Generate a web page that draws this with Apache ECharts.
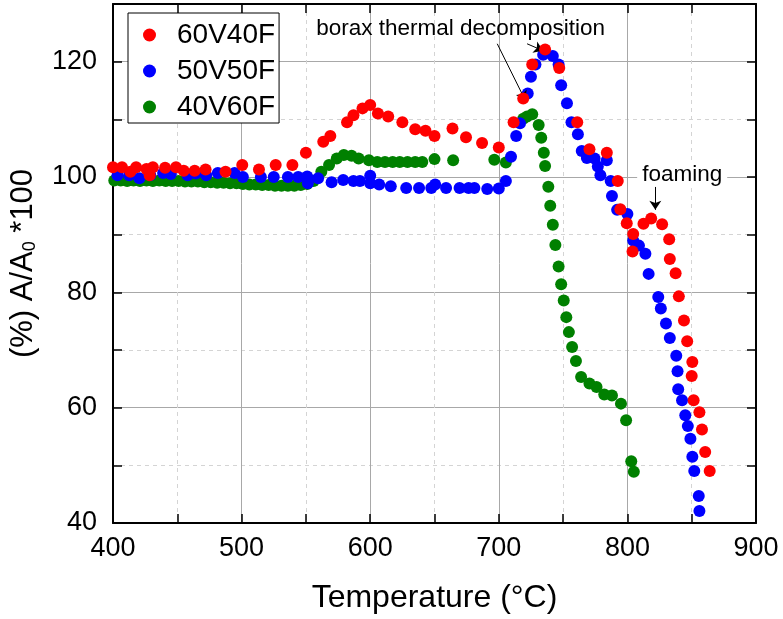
<!DOCTYPE html>
<html>
<head>
<meta charset="utf-8">
<script src="https://cdn.jsdelivr.net/npm/echarts@6/dist/echarts.min.js"></script>
<style>
  html, body { margin: 0; padding: 0; background: #fff; }
  #main { width: 783px; height: 619px; }
</style>
</head>
<body>
<div id="main"></div>
<script>
// 60V40F (red)
const temp60 = [400, 407, 413.5, 418, 426, 428.5, 431, 440.5, 449, 455, 463.5, 472, 487.5, 500.5, 513.5, 526.5, 539.5, 550,
  563.5, 569, 582, 587, 594, 600, 606, 614, 625, 635, 643, 650, 664, 674.5, 687, 700, 711.5, 719, 726, 736, 747, 761,
  770.5, 784, 792.5, 794.5, 799.5, 804.5, 804, 812.5, 818.5, 827, 832.5, 833, 837.5, 840, 844, 846.5, 850.5, 850, 851.5,
  856, 858, 860.5, 864];
const area60 = [101.7, 101.7, 100.9, 101.7, 101.4, 100.3, 101.7, 101.6, 101.7, 101.1, 101.1, 101.3, 100.9, 102.1, 101.3, 102.1, 102.1, 104.2,
  106.1, 107.1, 109.5, 110.7, 111.9, 112.5, 111.0, 110.5, 109.5, 108.3, 108.0, 107.1, 108.4, 106.9, 105.9, 105.1, 109.5, 113.6, 119.5, 122.1, 118.9, 109.5,
  104.8, 104.2, 99.3, 94.4, 92.0, 90.1, 87.1, 91.9, 92.8, 91.8, 89.2, 85.8, 83.3, 79.3, 75.1, 71.5, 67.9, 65.5, 61.3,
  59.2, 56.2, 52.3, 49.0];

// 50V50F (blue)
const temp50 = [403.5, 412.5, 420.5, 429, 439, 445, 458, 464.5, 472.5, 481.5, 494.5, 501, 515, 525, 536, 544, 551, 551.5, 559.5,
  570, 579, 587, 592, 600, 600, 607, 616, 628, 638, 647.5, 650.5, 659, 669.5, 676.5, 681, 691, 700, 705.5, 709.5, 713.5,
  716.5, 722.5, 725, 728.5, 734.5, 742, 746.5, 748.5, 753, 756.5, 761.5, 764.5, 768.5, 774.5, 777, 779, 784, 787, 788, 792,
  800, 804.5, 809, 814, 816.5, 824, 826, 830, 833, 838, 839, 839.5, 842.5, 845, 847, 849, 850.5, 852, 855.5, 856];
const area50 = [100.3, 100.3, 99.8, 100.3, 100.7, 100.5, 100.3, 100.6, 100.3, 100.7, 100.7, 100.0, 100.0, 100.0, 100.0, 100.0, 100.1, 98.9, 99.8,
  99.1, 99.5, 99.3, 99.3, 100.2, 98.9, 98.7, 98.4, 98.1, 98.1, 98.1, 98.7, 98.1, 98.1, 98.1, 98.1, 97.9, 98.0, 99.3, 103.5, 107.1,
  109.3, 114.5, 117.4, 119.5, 121.2, 121.0, 119.5, 115.9, 112.8, 109.5, 107.4, 104.5, 103.3, 103.2, 101.8, 100.3, 102.9, 99.3, 96.7, 94.3,
  93.6, 89.0, 88.1, 86.7, 83.2, 79.2, 77.2, 74.6, 72.1, 69.0, 66.3, 63.2, 61.3, 58.7, 56.8, 54.6, 51.5, 49.0, 44.7, 42.1];

// 40V60F (green)
const temp40 = [401, 406, 411, 416, 421, 426, 431, 436, 441, 446, 451, 456, 461, 466, 471, 476, 481, 486, 491, 496, 501, 506,
  511, 516, 521, 526, 531, 536, 541, 546, 551, 556, 562, 568, 574, 579.5, 585.5, 591, 599, 605.5, 611.5, 617.5, 623, 629,
  635, 640.5, 650, 664.5, 696.5, 705.5, 719, 722, 726, 731, 733, 735, 736, 738.5, 740, 742, 744, 746.5, 748.5, 750.5,
  752.5, 754.5, 757, 760, 764, 770.5, 776, 782, 788, 795, 799, 803, 805];
const area40 = [99.4, 99.4, 99.3, 99.4, 99.3, 99.4, 99.3, 99.4, 99.3, 99.3, 99.3, 99.2, 99.2, 99.2, 99.1, 99.1, 99.0, 99.0, 98.9, 98.9, 98.8, 98.7,
  98.7, 98.6, 98.6, 98.5, 98.5, 98.5, 98.5, 98.6, 98.8, 99.3, 100.9, 102.1, 103.2, 103.8, 103.7, 103.2, 102.9, 102.6, 102.6, 102.6, 102.6, 102.6,
  102.6, 102.6, 103.1, 102.9, 103.0, 102.5, 110.1, 110.5, 110.9, 109.0, 106.8, 104.2, 101.9, 98.3, 95.0, 91.7, 88.2, 84.5, 81.4, 78.6,
  75.7, 73.1, 70.5, 68.1, 65.3, 64.2, 63.6, 62.3, 62.1, 60.7, 57.8, 50.7, 48.9];

const seriesNames = ['60V40F', '50V50F', '40V60F'];
const xTicks = [400, 900, 100];
const yTicks = [40, 130, 20];

// annotations, in data units
const noteDecomp = { text: 'borax thermal decomposition', at: [670.3, 125.7] };
const noteFoam = { text: 'foaming', at: [842.6, 100.3] };
const arrows = [
  [[698.8, 123.1], [720.6, 113.3]],
  [[722, 123.1], [734.4, 121.9]],
  [[821.7, 98.3], [821.7, 94.3]]
];

const FONT = '"Liberation Sans", Arial, sans-serif';

function zip(xs, ys) {
  return xs.map((x, i) => [x, ys[i]]);
}

const chart = echarts.init(document.getElementById('main'), null, { renderer: 'canvas' });

const solidGrid = { show: true, lineStyle: { color: '#a8a8a8', width: 1 } };
const dashGrid = { show: true, lineStyle: { color: '#d4d4d4', width: 1, type: [4, 4] } };
const frame = { show: true, onZero: false, lineStyle: { color: '#000', width: 2 } };
const tickIn = { show: true, inside: true, length: 9, lineStyle: { color: '#000', width: 1.5 } };

function dots(name, xs, ys, color, z) {
  return {
    name: name,
    type: 'scatter',
    xAxisIndex: 0,
    yAxisIndex: 1,
    symbol: 'circle',
    symbolSize: 12,
    z: z,
    itemStyle: { color: color, opacity: 1 },
    data: zip(xs, ys)
  };
}

const red = dots(seriesNames[0], temp60, area60, '#ff0000', 5);
red.markLine = {
  silent: true,
  symbol: ['none', 'arrow'],
  symbolSize: 9,
  label: { show: false },
  lineStyle: { color: '#000', width: 1, type: 'solid' },
  data: arrows.map(a => [{ coord: a[0] }, { coord: a[1] }])
};
red.markPoint = {
  silent: true,
  symbol: 'rect',
  symbolSize: 0,
  label: { show: true, position: 'inside', color: '#000', fontFamily: FONT, fontSize: 22.5 },
  data: [
    { coord: noteDecomp.at, label: { formatter: noteDecomp.text } },
    { coord: noteFoam.at, label: { formatter: noteFoam.text, backgroundColor: '#fff', padding: [0, 5] } }
  ]
};

const option = {
  animation: false,
  backgroundColor: '#fff',
  textStyle: { fontFamily: FONT },
  grid: { left: 113, right: 27, top: 4, bottom: 95 },
  legend: {
    data: seriesNames,
    orient: 'vertical',
    left: 128,
    top: 13,
    icon: 'circle',
    itemWidth: 13,
    itemHeight: 13,
    itemGap: 8,
    padding: [8, 4, 2, 15],
    borderColor: '#000',
    borderWidth: 1,
    backgroundColor: '#fff',
    textStyle: { fontSize: 28, lineHeight: 28, color: '#000', fontFamily: FONT, padding: [0, 0, 0, 16] }
  },
  xAxis: [
    {
      type: 'value', position: 'bottom',
      min: xTicks[0], max: xTicks[1], interval: xTicks[2],
      axisLine: frame,
      axisTick: tickIn,
      minorTick: { show: true, splitNumber: 2, length: 9, lineStyle: { color: '#000', width: 1.5 } },
      splitLine: solidGrid,
      minorSplitLine: dashGrid,
      axisLabel: { fontSize: 27, color: '#000', margin: 12, fontFamily: FONT },
      name: 'Temperature (°C)',
      nameLocation: 'middle',
      nameGap: 59,
      nameTextStyle: { fontSize: 32, color: '#000', fontFamily: FONT }
    },
    {
      type: 'value', position: 'top',
      min: xTicks[0], max: xTicks[1], interval: xTicks[2],
      axisLine: frame,
      axisTick: tickIn,
      minorTick: { show: true, splitNumber: 2, length: 9, lineStyle: { color: '#000', width: 1.5 } },
      splitLine: { show: false },
      axisLabel: { show: false }
    }
  ],
  yAxis: [
    {
      // minor dashed grid + ticks every 10
      type: 'value', position: 'left',
      min: yTicks[0], max: yTicks[1], interval: yTicks[2] / 2,
      axisLine: { show: false },
      axisTick: tickIn,
      axisLabel: { show: false },
      splitLine: dashGrid
    },
    {
      type: 'value', position: 'left',
      min: yTicks[0], max: yTicks[1], interval: yTicks[2],
      axisLine: frame,
      axisTick: { show: false },
      splitLine: solidGrid,
      axisLabel: { fontSize: 27, color: '#000', margin: 16, showMaxLabel: false, fontFamily: FONT },
      name: '(%) A/A{sub|0} *100',
      nameLocation: 'middle',
      nameGap: 74,
      nameTextStyle: {
        fontSize: 31, lineHeight: 31, color: '#000', fontFamily: FONT,
        rich: { sub: { fontSize: 18, lineHeight: 18, verticalAlign: 'bottom', color: '#000', fontFamily: FONT } }
      }
    },
    {
      type: 'value', position: 'right',
      min: yTicks[0], max: yTicks[1], interval: yTicks[2] / 2,
      axisLine: frame,
      axisTick: tickIn,
      axisLabel: { show: false },
      splitLine: { show: false }
    }
  ],
  series: [
    dots(seriesNames[2], temp40, area40, '#008000', 3),
    dots(seriesNames[1], temp50, area50, '#0000ff', 4),
    red
  ]
};

chart.setOption(option);
</script>
</body>
</html>
